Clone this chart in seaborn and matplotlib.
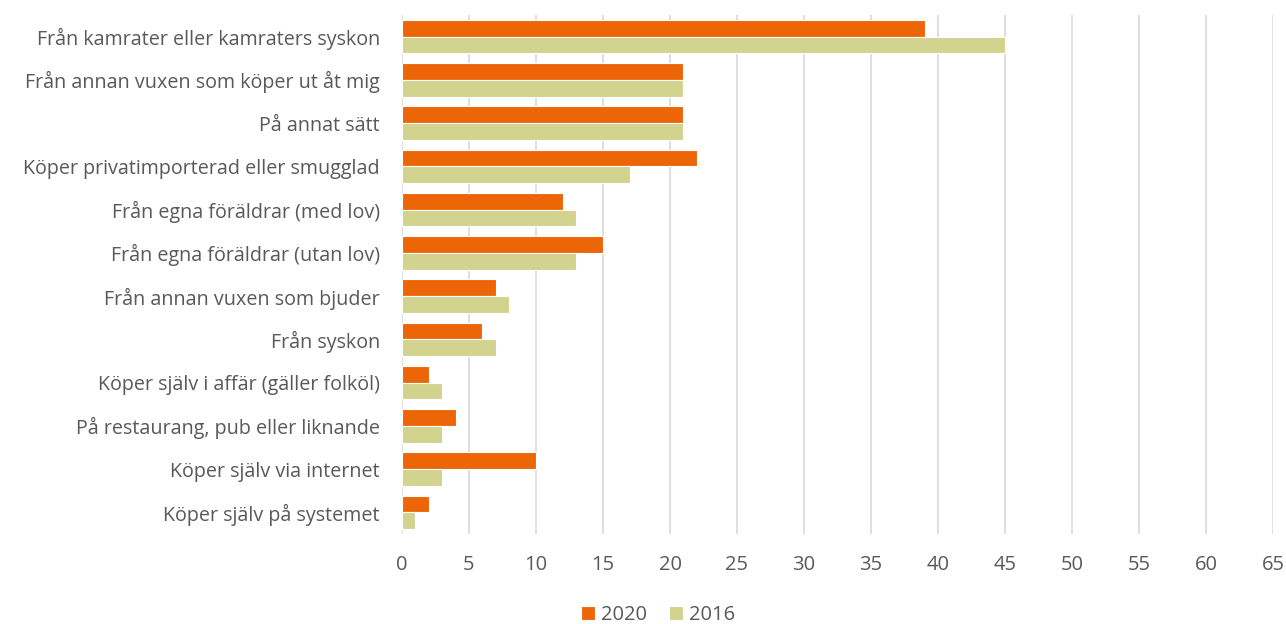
import pandas as pd
import seaborn as sns
from matplotlib import pyplot as plt

categories = [
    "Från kamrater eller kamraters syskon",
    "Från annan vuxen som köper ut åt mig",
    "På annat sätt",
    "Köper privatimporterad eller smugglad",
    "Från egna föräldrar (med lov)",
    "Från egna föräldrar (utan lov)",
    "Från annan vuxen som bjuder",
    "Från syskon",
    "Köper själv i affär (gäller folköl)",
    "På restaurang, pub eller liknande",
    "Köper själv via internet",
    "Köper själv på systemet",
]
values_2020 = [39, 21, 21, 22, 12, 15, 7, 6, 2, 4, 10, 2]
values_2016 = [45, 21, 21, 17, 13, 13, 8, 7, 3, 3, 3, 1]

df = pd.DataFrame({
    "kategori": categories * 2,
    "procent": values_2020 + values_2016,
    "år": ["2020"] * len(categories) + ["2016"] * len(categories),
})

sns.set_style("white")
plt.rcParams["font.family"] = ["Open Sans", "DejaVu Sans"]
text_color = "#595959"

fig = plt.figure(figsize=(12.86, 6.24), dpi=100)
ax = fig.add_axes([402 / 1286, 1 - 534 / 624, 871 / 1286, 519 / 624])

sns.barplot(data=df, x="procent", y="kategori", hue="år", order=categories,
            hue_order=["2020", "2016"], palette=["#EC6608", "#D2D38E"],
            saturation=1, width=0.78, edgecolor="white", linewidth=0.8,
            ax=ax, zorder=3)

ax.set_xlim(0, 65)
ax.set_ylim(11.5, -0.5)
ax.set_xticks(range(0, 66, 5))
ax.grid(axis="x", color="#D9D9D9", linewidth=1.2, zorder=0)
ax.set_axisbelow(True)
for s in ax.spines.values():
    s.set_visible(False)
ax.set_xlabel("")
ax.set_ylabel("")
ax.tick_params(axis="x", length=0, pad=15, labelsize=14.5, labelcolor=text_color)
ax.tick_params(axis="y", length=0, pad=16, labelsize=14.2, labelcolor=text_color)

ax.legend(loc="center", bbox_to_anchor=(0.294, -0.157), ncol=2, frameon=False,
          fontsize=14.5, labelcolor=text_color, handlelength=0.7, handleheight=0.7,
          handletextpad=0.3, columnspacing=1.1)

fig.savefig("out.png", dpi=100)
